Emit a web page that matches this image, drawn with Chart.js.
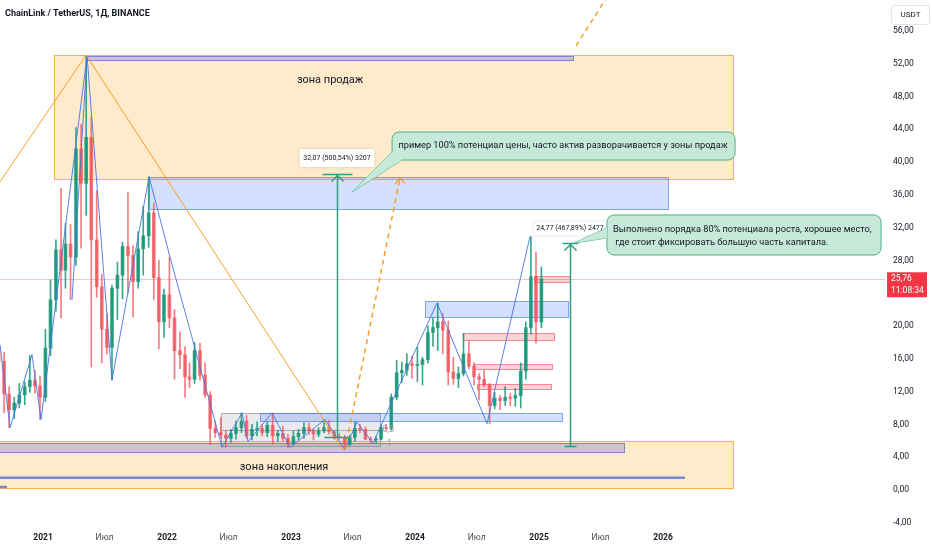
<!DOCTYPE html>
<html>
<head>
<meta charset="utf-8">
<script src="https://cdn.jsdelivr.net/npm/chart.js@4.4.1/dist/chart.umd.min.js"></script>
<style>
  html, body { margin: 0; padding: 0; background: #fff; }
</style>
</head>
<body>
<canvas id="myChart" width="932" height="550"></canvas>
<script>
// half-month candles
const candleDates = [
  '2020-08-16','2020-09-01','2020-09-16','2020-10-01','2020-10-16','2020-11-01','2020-11-16','2020-12-01','2020-12-16',
  '2021-01-01','2021-01-16','2021-02-01','2021-02-16','2021-03-01','2021-03-16','2021-04-01','2021-04-16',
  '2021-05-01','2021-05-16','2021-06-01','2021-06-16','2021-07-01','2021-07-16','2021-08-01','2021-08-16',
  '2021-09-01','2021-09-16','2021-10-01','2021-10-16','2021-11-01','2021-11-16','2021-12-01','2021-12-16',
  '2022-01-01','2022-01-16','2022-02-01','2022-02-16','2022-03-01','2022-03-16','2022-04-01','2022-04-16',
  '2022-05-01','2022-05-16','2022-06-01','2022-06-16','2022-07-01','2022-07-16','2022-08-01','2022-08-16',
  '2022-09-01','2022-09-16','2022-10-01','2022-10-16','2022-11-01','2022-11-16','2022-12-01','2022-12-16',
  '2023-01-01','2023-01-16','2023-02-01','2023-02-16','2023-03-01','2023-03-16','2023-04-01','2023-04-16',
  '2023-05-01','2023-05-16','2023-06-01','2023-06-16','2023-07-01','2023-07-16','2023-08-01','2023-08-16',
  '2023-09-01','2023-09-16','2023-10-01','2023-10-16','2023-11-01','2023-11-16','2023-12-01','2023-12-16',
  '2024-01-01','2024-01-16','2024-02-01','2024-02-16','2024-03-01','2024-03-16','2024-04-01','2024-04-16',
  '2024-05-01','2024-05-16','2024-06-01','2024-06-16','2024-07-01','2024-07-16','2024-08-01','2024-08-16',
  '2024-09-01','2024-09-16','2024-10-01','2024-10-16','2024-11-01','2024-11-16','2024-12-01','2024-12-16',
  '2025-01-01'
];
const opens = [
  17.0, 15.7, 11.7, 9.8, 10.6, 11.6, 12.6, 13.4, 12.7,
  11.3, 17.3, 23.2, 29.3, 26.8, 30.0, 28.4, 41.6,
  37.4, 43.0, 30.5, 24.8, 19.6, 17.4, 24.6, 26.2,
  29.7, 28.6, 25.4, 29.4, 31.0, 33.8, 25.9, 20.5,
  23.8, 21.0, 17.0, 16.5, 13.8, 13.5, 17.0, 14.0,
  11.6, 7.5, 7.0, 6.7, 6.3, 6.9, 7.6, 8.4,
  6.6, 7.4, 7.5, 7.0, 7.9, 6.6, 6.9, 6.3,
  5.6, 6.5, 6.9, 7.6, 7.2, 6.8, 7.2, 7.6,
  7.1, 6.5, 6.4, 5.6, 6.4, 7.5, 7.4, 6.2,
  6.1, 6.2, 7.6, 7.5, 11.3, 14.3, 14.6, 15.4,
  15.2, 15.3, 15.9, 19.2, 19.8, 20.5, 19.5, 14.4,
  13.6, 14.2, 16.6, 15.1, 13.8, 13.5, 12.8, 10.3,
  11.2, 10.9, 11.3, 11.2, 11.5, 14.5, 19.8, 26.0,
  20.5
];
const highs = [
  20.1, 16.8, 12.6, 11.3, 13.0, 13.2, 16.4, 14.6, 13.9,
  19.6, 25.6, 30.5, 36.8, 32.5, 32.4, 44.2, 44.6,
  52.9, 45.5, 36.5, 26.3, 21.5, 25.0, 27.8, 30.2,
  36.3, 29.8, 31.5, 34.6, 38.2, 35.0, 28.0, 24.5,
  28.4, 22.0, 19.3, 17.5, 15.5, 18.0, 17.9, 15.5,
  12.0, 8.4, 8.8, 7.3, 7.4, 8.4, 9.4, 9.1,
  8.0, 8.3, 8.0, 8.3, 9.4, 7.3, 7.8, 6.8,
  7.2, 7.4, 8.2, 8.2, 7.4, 7.6, 8.5, 8.5,
  7.3, 6.9, 6.7, 6.7, 8.3, 8.0, 7.7, 6.5,
  6.5, 7.9, 8.0, 11.7, 15.8, 15.6, 16.6, 16.3,
  17.4, 16.2, 20.0, 21.0, 22.8, 21.5, 20.6, 16.2,
  15.0, 19.1, 18.2, 15.5, 14.2, 14.6, 13.0, 11.9,
  11.5, 12.6, 11.8, 12.4, 15.5, 20.5, 30.9, 29.0,
  27.2
];
const lows = [
  13.4, 9.4, 7.6, 8.7, 10.0, 10.4, 11.9, 11.8, 8.6,
  10.8, 16.4, 21.8, 21.0, 24.6, 23.2, 27.4, 29.5,
  33.5, 15.0, 23.5, 15.5, 16.6, 13.4, 20.8, 23.3,
  24.0, 21.1, 24.6, 26.2, 29.6, 23.2, 17.2, 18.6,
  19.8, 13.5, 14.8, 11.3, 12.5, 13.0, 13.4, 11.3,
  5.5, 6.4, 6.3, 5.2, 5.8, 6.2, 7.0, 6.3,
  6.1, 6.6, 6.6, 6.5, 5.6, 5.9, 6.0, 5.2,
  5.5, 6.1, 6.3, 6.8, 6.1, 6.5, 7.0, 6.8,
  6.2, 6.2, 5.0, 5.4, 5.9, 7.0, 6.1, 5.7,
  5.7, 6.1, 7.2, 7.3, 11.0, 13.1, 14.0, 13.6,
  13.2, 12.8, 15.5, 17.5, 17.0, 16.6, 12.8, 12.9,
  12.5, 13.9, 14.8, 12.8, 11.0, 12.6, 8.1, 9.9,
  9.8, 10.3, 10.3, 10.2, 10.0, 13.5, 19.0, 17.9,
  19.8
];
const closes = [
  15.7, 11.7, 9.8, 10.6, 11.6, 12.6, 13.4, 12.7, 11.3,
  17.3, 23.2, 29.3, 26.8, 30.0, 28.4, 41.6, 37.4,
  43.0, 30.5, 24.8, 19.6, 17.4, 24.6, 26.2, 29.7,
  28.6, 25.4, 29.4, 31.0, 33.8, 25.9, 20.5, 23.8,
  21.0, 17.0, 16.5, 13.8, 13.5, 17.0, 14.0, 11.6,
  7.5, 7.0, 6.7, 6.3, 6.9, 7.6, 8.4, 6.6,
  7.4, 7.5, 7.0, 7.9, 6.6, 6.9, 6.3, 5.6,
  6.5, 6.9, 7.6, 7.2, 6.8, 7.2, 7.6, 7.1,
  6.5, 6.4, 5.6, 6.4, 7.5, 7.4, 6.2, 6.1,
  6.2, 7.6, 7.5, 11.3, 14.3, 14.6, 15.4, 15.2,
  15.3, 15.9, 19.2, 19.8, 20.5, 19.5, 14.4, 13.6,
  14.2, 16.6, 15.1, 13.8, 13.5, 12.8, 10.3, 11.2,
  10.9, 11.3, 11.2, 11.5, 14.5, 19.8, 26.0, 20.5,
  25.76
];

// zigzag pivots (decimal year, price)
const zigTimes  = [2020.653, 2020.734, 2020.911, 2020.984, 2021.355, 2021.556, 2021.855, 2022.024, 2022.444, 2022.605,
                   2022.653, 2022.847, 2022.992, 2023.274, 2023.435, 2023.532, 2023.661, 2024.177, 2024.581, 2024.927];
const zigPrices = [17.7, 7.6, 16.5, 8.6, 52.9, 13.4, 38.2, 28.4, 5.2, 9.4,
                   5.9, 9.4, 5.2, 8.6, 4.9, 8.3, 5.7, 22.8, 8.1, 30.9];
const zig2Times  = [2021.234, 2021.355];
const zig2Prices = [23.2, 52.9];

const xTicks = [2021, 2021.496, 2022, 2022.496, 2023, 2023.496, 2024, 2024.497, 2025, 2025.496, 2026];
const xTickLabels = ['2021', 'Июл', '2022', 'Июл', '2023', 'Июл', '2024', 'Июл', '2025', 'Июл', '2026'];
const yTicks = [-4, 0, 4, 8, 12, 16, 20, 24, 28, 32, 36, 40, 44, 48, 52, 56];
const lastPrice = 25.76;

const FONT = 'Roboto, "Liberation Sans", Arial, sans-serif';
const GREEN = 'rgba(22,150,120,0.85)';
const RED = 'rgba(240,80,90,0.75)';

function toYear(s) {
  const d = new Date(s + 'T00:00:00Z');
  const y = d.getUTCFullYear();
  const a = Date.UTC(y, 0, 1), b = Date.UTC(y + 1, 0, 1);
  return y + (d.getTime() - a) / (b - a) + 7 / 365; // bar sits mid-period
}
const candleX = candleDates.map(toYear);
const candleColors = opens.map((o, i) => closes[i] >= o ? GREEN : RED);
const fmt = v => v.toFixed(2).replace('.', ',');

// drawings (zones in time/price units)
const styles = {
  orange:   { fill: 'rgba(255,167,38,0.24)', stroke: 'rgba(255,160,40,0.8)' },
  blue:     { fill: 'rgba(41,98,255,0.2)',   stroke: 'rgba(41,98,255,0.55)' },
  greyblue: { fill: 'rgba(120,125,165,0.35)', stroke: 'rgba(80,100,200,0.7)' },
  grey:     { fill: 'rgba(150,150,160,0.2)', stroke: 'rgba(140,140,150,0.7)' },
  red:      { fill: 'rgba(242,54,69,0.22)',  stroke: 'rgba(242,54,69,0.55)' }
};
const zones = [
  { t0: 2021.089, t1: 2026.565, p0: 37.93, p1: 53.05, s: 'orange' },
  { t0: 2020.5,   t1: 2026.565, p0: 0.21,  p1: 6.01,  s: 'orange' },
  { t0: 2021.855, t1: 2026.040, p0: 34.27, p1: 38.17, s: 'blue' },
  { t0: 2021.355, t1: 2025.274, p0: 52.44, p1: 52.93, s: 'greyblue' },
  { t0: 2020.5,   t1: 2025.685, p0: 4.63,  p1: 5.73,  s: 'greyblue' },
  { t0: 2022.435, t1: 2023.718, p0: 5.37,  p1: 9.39,  s: 'grey' },
  { t0: 2022.750, t1: 2025.185, p0: 8.45,  p1: 9.43,  s: 'blue' },
  { t0: 2024.081, t1: 2025.234, p0: 21.10, p1: 23.05, s: 'blue' },
  { t0: 2024.960, t1: 2025.250, p0: 25.40, p1: 26.13, s: 'red' },
  { t0: 2024.387, t1: 2025.121, p0: 18.29, p1: 19.15, s: 'red' },
  { t0: 2024.476, t1: 2025.105, p0: 14.76, p1: 15.37, s: 'red' },
  { t0: 2024.500, t1: 2025.097, p0: 12.32, p1: 12.93, s: 'red' }
];

const drawings = {
  id: 'drawings',
  beforeDatasetsDraw(chart) {
    const { ctx, chartArea: a } = chart;
    const X = t => chart.scales.x.getPixelForValue(t);
    const Y = p => chart.scales.y.getPixelForValue(p);
    ctx.save();
    ctx.beginPath(); ctx.rect(a.left, a.top, a.right - a.left, a.bottom - a.top); ctx.clip();

    // last price line
    ctx.strokeStyle = 'rgba(242,54,69,0.3)';
    ctx.lineWidth = 1;
    ctx.beginPath();
    ctx.moveTo(a.left, Math.round(Y(lastPrice)) + 0.5);
    ctx.lineTo(a.right, Math.round(Y(lastPrice)) + 0.5);
    ctx.stroke();

    zones.forEach(z => {
      const x1 = Math.round(X(z.t0)) + 0.5, x2 = Math.round(X(z.t1)) + 0.5;
      const y1 = Math.round(Y(z.p1)) + 0.5, y2 = Math.round(Y(z.p0)) + 0.5;
      ctx.fillStyle = styles[z.s].fill;
      ctx.fillRect(x1, y1, x2 - x1, y2 - y1);
      ctx.strokeStyle = styles[z.s].stroke;
      ctx.strokeRect(x1, y1, x2 - x1, y2 - y1);
    });

    // mid level of the range box
    ctx.strokeStyle = 'rgba(140,140,150,0.7)';
    ctx.beginPath();
    ctx.moveTo(X(2022.435), Math.round(Y(7.32)) + 0.5);
    ctx.lineTo(X(2023.718), Math.round(Y(7.32)) + 0.5);
    ctx.stroke();

    // blue level lines inside the accumulation zone
    ctx.strokeStyle = 'rgba(95,120,215,0.85)';
    ctx.lineWidth = 2.5;
    ctx.beginPath();
    ctx.moveTo(X(2020.5), Y(1.5)); ctx.lineTo(X(2026.177), Y(1.5));
    ctx.moveTo(X(2020.5), Y(0.37)); ctx.lineTo(X(2020.710), Y(0.37));
    ctx.stroke();
    ctx.restore();
  },
  afterDatasetsDraw(chart) {
    const { ctx, chartArea: a } = chart;
    const X = t => chart.scales.x.getPixelForValue(t);
    const Y = p => chart.scales.y.getPixelForValue(p);
    ctx.save();
    ctx.beginPath(); ctx.rect(a.left, a.top, a.right - a.left, a.bottom - a.top); ctx.clip();

    // orange trend lines
    ctx.strokeStyle = 'rgba(245,155,30,0.95)';
    ctx.lineWidth = 1;
    ctx.beginPath();
    ctx.moveTo(X(2020.573), Y(35.8)); ctx.lineTo(X(2021.347), Y(53.05));
    ctx.lineTo(X(2023.419), Y(4.88));
    ctx.stroke();

    // dashed projection arrows
    ctx.lineWidth = 1.5;
    ctx.setLineDash([5, 4]);
    ctx.beginPath();
    ctx.moveTo(X(2023.435), Y(4.88)); ctx.lineTo(X(2023.879), Y(38.05));
    ctx.moveTo(X(2025.298), Y(54.15)); ctx.lineTo(X(2025.584), Y(61));
    ctx.stroke();
    ctx.setLineDash([]);
    let ax = X(2023.879), ay = Y(38.05);
    ctx.lineWidth = 1.2;
    ctx.beginPath();
    ctx.moveTo(ax - 5, ay + 6); ctx.lineTo(ax, ay); ctx.lineTo(ax + 5, ay + 6);
    ctx.stroke();

    // range box labels
    ctx.fillStyle = '#9598a1';
    ctx.font = '9px ' + FONT;
    ctx.textBaseline = 'middle';
    ctx.textAlign = 'left';
    ctx.fillText('0,5', X(2023.735), Y(7.32));
    ctx.fillText('1', X(2023.774), Y(5.61));

    // zone captions
    ctx.fillStyle = '#131722';
    ctx.font = '11px ' + FONT;
    ctx.textAlign = 'center';
    ctx.fillText('зона продаж', X(2023.315), Y(50.0));
    ctx.fillText('зона накопления', X(2022.944), Y(2.8));

    // measure arrows
    const measure = (t, pBot, pTop, half) => {
      const x = Math.round(X(t)) + 0.5, yb = Y(pBot), yt = Y(pTop);
      ctx.strokeStyle = 'rgb(44,160,128)';
      ctx.lineWidth = 1.5;
      ctx.beginPath();
      ctx.moveTo(x, yb); ctx.lineTo(x, yt);
      ctx.moveTo(x - half, yt); ctx.lineTo(x + half, yt);
      ctx.moveTo(x - half + 2, yb); ctx.lineTo(x + half - 2, yb);
      ctx.moveTo(x - 6, yt + 7); ctx.lineTo(x, yt + 1); ctx.lineTo(x + 6, yt + 7);
      ctx.stroke();
    };
    measure(2023.371, 6.41, 38.48, 15);
    measure(2025.250, 5.29, 30.06, 8);

    const tag = (t, p, w, h, text) => {
      const cx = X(t), cy = Y(p);
      ctx.save();
      ctx.shadowColor = 'rgba(0,0,0,0.18)';
      ctx.shadowBlur = 3;
      ctx.fillStyle = '#fff';
      ctx.beginPath(); ctx.roundRect(cx - w / 2, cy - h / 2, w, h, 2); ctx.fill();
      ctx.restore();
      ctx.fillStyle = '#131722';
      ctx.font = '7px ' + FONT;
      ctx.textAlign = 'center';
      ctx.textBaseline = 'middle';
      ctx.fillText(text, cx, cy);
    };
    tag(2023.371, 40.49, 75, 18, '32,07 (500,54%) 3207');
    tag(2025.250, 31.89, 72, 14, '24,77 (467,89%) 2477');

    // callouts
    const callout = (t0, t1, pTop, pBot, ptr) => {
      const x1 = X(t0), x2 = X(t1), y1 = Y(pTop), y2 = Y(pBot);
      ctx.fillStyle = 'rgb(198,233,218)';
      ctx.strokeStyle = 'rgb(80,175,142)';
      ctx.lineWidth = 1;
      ctx.beginPath(); ctx.roundRect(x1, y1, x2 - x1, y2 - y1, 7); ctx.fill(); ctx.stroke();
      ctx.beginPath();
      ctx.moveTo(X(ptr[0][0]), Y(ptr[0][1]));
      ctx.lineTo(X(ptr[1][0]), Y(ptr[1][1]));
      ctx.lineTo(X(ptr[2][0]), Y(ptr[2][1]));
      ctx.stroke();
      ctx.closePath(); ctx.fill();
    };
    callout(2023.815, 2026.581, 43.66, 40.24,
      [[2023.815, 41.22], [2023.492, 36.34], [2023.895, 40.24]]);
    callout(2025.548, 2027.758, 33.54, 28.66,
      [[2025.548, 31.95], [2025.282, 30.12], [2025.548, 30.73]]);

    ctx.fillStyle = '#131722';
    ctx.font = '9.2px ' + FONT;
    ctx.textBaseline = 'middle';
    ctx.textAlign = 'center';
    ctx.fillText('пример 100% потенциал цены, часто актив разворачивается у зоны продаж', X(2025.194), Y(41.95));
    ctx.textAlign = 'left';
    ctx.fillText('Выполнено порядка 80% потенциала роста, хорошее место,', X(2025.597), Y(31.71));
    ctx.fillText(' где стоит фиксировать большую часть капитала.', X(2025.597), Y(30.12));
    ctx.restore();
  },
  afterDraw(chart) {
    const { ctx } = chart;
    const Y = p => chart.scales.y.getPixelForValue(p);
    ctx.save();
    ctx.fillStyle = '#131722';
    ctx.font = 'bold 9px ' + FONT;
    ctx.textAlign = 'left';
    ctx.textBaseline = 'middle';
    ctx.fillText('ChainLink / TetherUS, 1Д, BINANCE', 5, 14);

    // currency box
    ctx.fillStyle = '#fff';
    ctx.strokeStyle = '#e0e3eb';
    ctx.beginPath(); ctx.roundRect(891.5, 5.5, 38, 19, 3); ctx.fill(); ctx.stroke();
    ctx.fillStyle = '#131722';
    ctx.font = '8px ' + FONT;
    ctx.textAlign = 'center';
    ctx.fillText('USDT', 910.5, 15);

    // last price badge
    const py = Y(lastPrice);
    ctx.fillStyle = '#f23645';
    ctx.fillRect(887, py - 6.5, 40, 25);
    ctx.fillStyle = '#fff';
    ctx.font = '8.5px ' + FONT;
    ctx.textAlign = 'left';
    ctx.fillText(fmt(lastPrice), 891, py + 0.5);
    ctx.fillText('11:08:34', 891, py + 12);
    ctx.restore();
  }
};

const xMin = 2020.653, xMax = xMin + 885 / 124;
const yMax = 490 / 8.2, yMin = (490 - 525) / 8.2;

const ctx = document.getElementById('myChart');
new Chart(ctx, {
  type: 'bar',
  data: {
    datasets: [
      {
        type: 'line',
        data: zigTimes.map((t, i) => ({ x: t, y: zigPrices[i] })),
        borderColor: 'rgba(70,115,230,0.9)',
        borderWidth: 1,
        pointRadius: 0,
        order: 0
      },
      {
        type: 'line',
        data: zig2Times.map((t, i) => ({ x: t, y: zig2Prices[i] })),
        borderColor: 'rgba(70,115,230,0.9)',
        borderWidth: 1,
        pointRadius: 0,
        order: 0
      },
      {
        data: candleX.map((t, i) => ({ x: t, y: [opens[i], closes[i]] })),
        backgroundColor: candleColors,
        barThickness: 3,
        minBarLength: 1,
        grouped: false,
        order: 1
      },
      {
        data: candleX.map((t, i) => ({ x: t, y: [lows[i], highs[i]] })),
        backgroundColor: candleColors,
        barThickness: 1,
        grouped: false,
        order: 2
      }
    ]
  },
  options: {
    responsive: false,
    animation: false,
    events: [],
    layout: { padding: 0 },
    plugins: { legend: { display: false }, tooltip: { enabled: false } },
    scales: {
      x: {
        type: 'linear', min: xMin, max: xMax, offset: false,
        grid: { display: false, drawTicks: false },
        border: { display: false },
        afterBuildTicks: s => { s.ticks = xTicks.map(v => ({ value: v })); },
        afterFit: s => { s.height = 25; s.paddingLeft = 0; s.paddingRight = 0; },
        ticks: {
          autoSkip: false, maxRotation: 0, padding: 8,
          callback: (v, i) => xTickLabels[i],
          font: c => ({ family: FONT, size: 8.5, weight: /^\d/.test(xTickLabels[c.index] || '') ? 'bold' : 'normal' }),
          color: c => /^\d/.test(xTickLabels[c.index] || '') ? '#131722' : '#4a4d57'
        }
      },
      y: {
        type: 'linear', position: 'right', min: yMin, max: yMax,
        grid: { display: false, drawTicks: false },
        border: { display: false },
        afterBuildTicks: s => { s.ticks = yTicks.map(v => ({ value: v })); },
        afterFit: s => { s.width = 47; s.paddingTop = 0; s.paddingBottom = 0; },
        ticks: { padding: 8, callback: v => fmt(v), font: { family: FONT, size: 8.5 }, color: '#131722' }
      }
    }
  },
  plugins: [drawings]
});
</script>
</body>
</html>
